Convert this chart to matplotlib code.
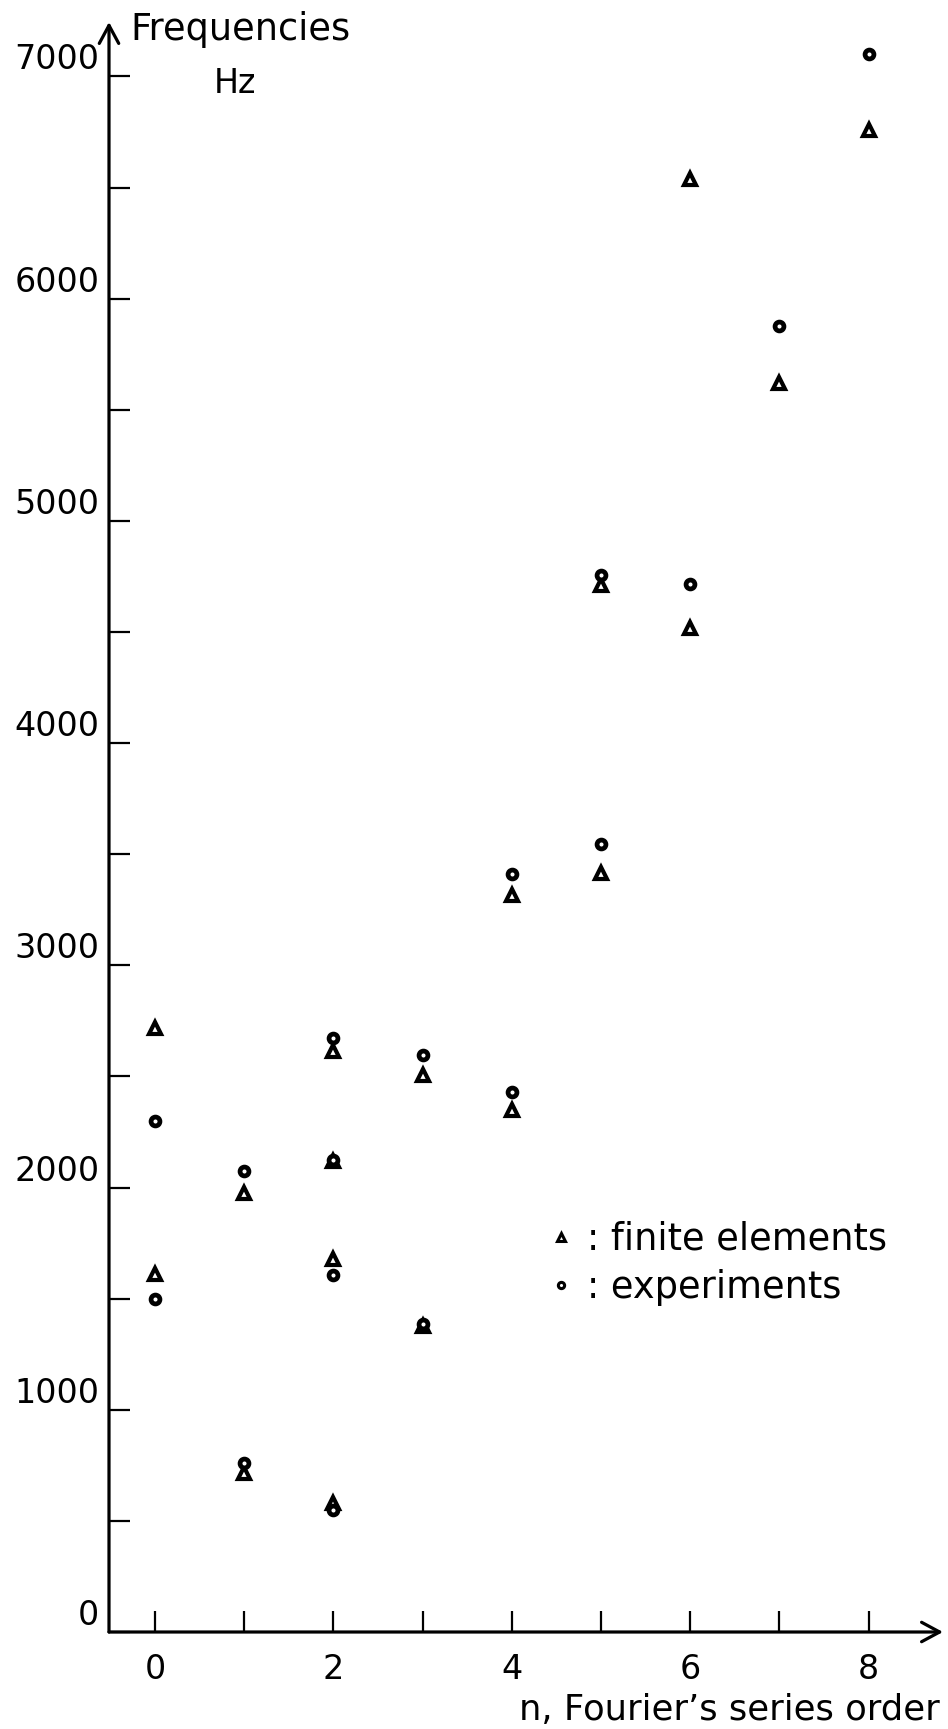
import matplotlib
matplotlib.use("Agg")
import matplotlib.pyplot as plt
from matplotlib.lines import Line2D

# finite element results (triangles)
fe_n = [0, 0, 1, 1, 2, 2, 2, 2, 3, 3, 4, 4, 5, 5, 6, 6, 7, 8]
fe_hz = [2720, 1610, 1975, 715, 2615, 2120, 1680, 580, 2505, 1375,
         3315, 2350, 4710, 3415, 6540, 4520, 5620, 6760]

# experimental results (circles)
exp_n = [0, 0, 1, 1, 2, 2, 2, 2, 3, 3, 4, 4, 5, 5, 6, 7, 8]
exp_hz = [2300, 1500, 2075, 760, 2675, 2125, 1605, 550, 2595, 1385,
          3410, 2430, 4755, 3545, 4715, 5875, 7100]

x_major = [0, 2, 4, 6, 8]
x_minor = [1, 3, 5, 7]
y_major = [0, 1000, 2000, 3000, 4000, 5000, 6000, 7000]
y_minor = [500, 1500, 2500, 3500, 4500, 5500, 6500]
y_labels = ["0", "1000", "2000", "3000", "4000", "5000", "6000", "7000"]
legend_labels = [": finite elements", ": experiments"]

plt.rcParams["font.family"] = ["DejaVu Sans"]

W, H = 948, 1729
fig = plt.figure(figsize=(W / 100, H / 100), dpi=100)
ax = fig.add_axes([109 / W, 97 / H, 834 / W, 1610 / H])

ax.plot(fe_n, fe_hz, ls="none", marker="^", ms=8.5, mfc="white", mec="black", mew=3)
ax.plot(exp_n, exp_hz, ls="none", marker="o", ms=6.4, mfc="white", mec="black", mew=3.4)

ax.set_xlim(-0.516, 8.834)
ax.set_ylim(0, 7245)

# axes drawn as arrows instead of spines
for s in ax.spines.values():
    s.set_visible(False)
arrow = dict(arrowstyle="->, head_length=0.65, head_width=0.35", lw=2.3,
             color="black", shrinkA=0, shrinkB=0, mutation_scale=20)
ax.annotate("", xy=(1, 0), xytext=(0, 0), xycoords="axes fraction", arrowprops=arrow)
ax.annotate("", xy=(0, 1), xytext=(0, 0), xycoords="axes fraction", arrowprops=arrow)

ax.set_xticks(x_major)
ax.set_xticks(x_minor, minor=True)
ax.set_yticks(y_major, labels=y_labels)
ax.set_yticks(y_minor, minor=True)
ax.tick_params(which="both", direction="in", length=15, width=1.6, color="black")
ax.tick_params(axis="y", which="major", pad=7, labelsize=24)
ax.tick_params(axis="x", which="major", pad=15, labelsize=24)
for lbl in ax.get_yticklabels():
    lbl.set_va("bottom")

handles = [
    Line2D([], [], ls="none", marker="^", ms=6, mfc="white", mec="black", mew=2.2),
    Line2D([], [], ls="none", marker="o", ms=4.5, mfc="white", mec="black", mew=2.2),
]
ax.legend(handles, legend_labels, loc="center left", bbox_to_anchor=(0.529, 0.229),
          frameon=False, fontsize=26.5, handlelength=0.6, handletextpad=0.4,
          labelspacing=0.3, borderpad=0, borderaxespad=0)

fig.text(130 / W, 1 - 40 / H, "Frequencies", fontsize=26.5, ha="left", va="baseline")
fig.text(235 / W, 1 - 93 / H, "Hz", fontsize=24, ha="center", va="baseline")
fig.text(940 / W, 1 - 1720 / H, "n, Fourier\u2019s series order", fontsize=25.5,
         ha="right", va="baseline")

fig.savefig("out.png", dpi=100)
